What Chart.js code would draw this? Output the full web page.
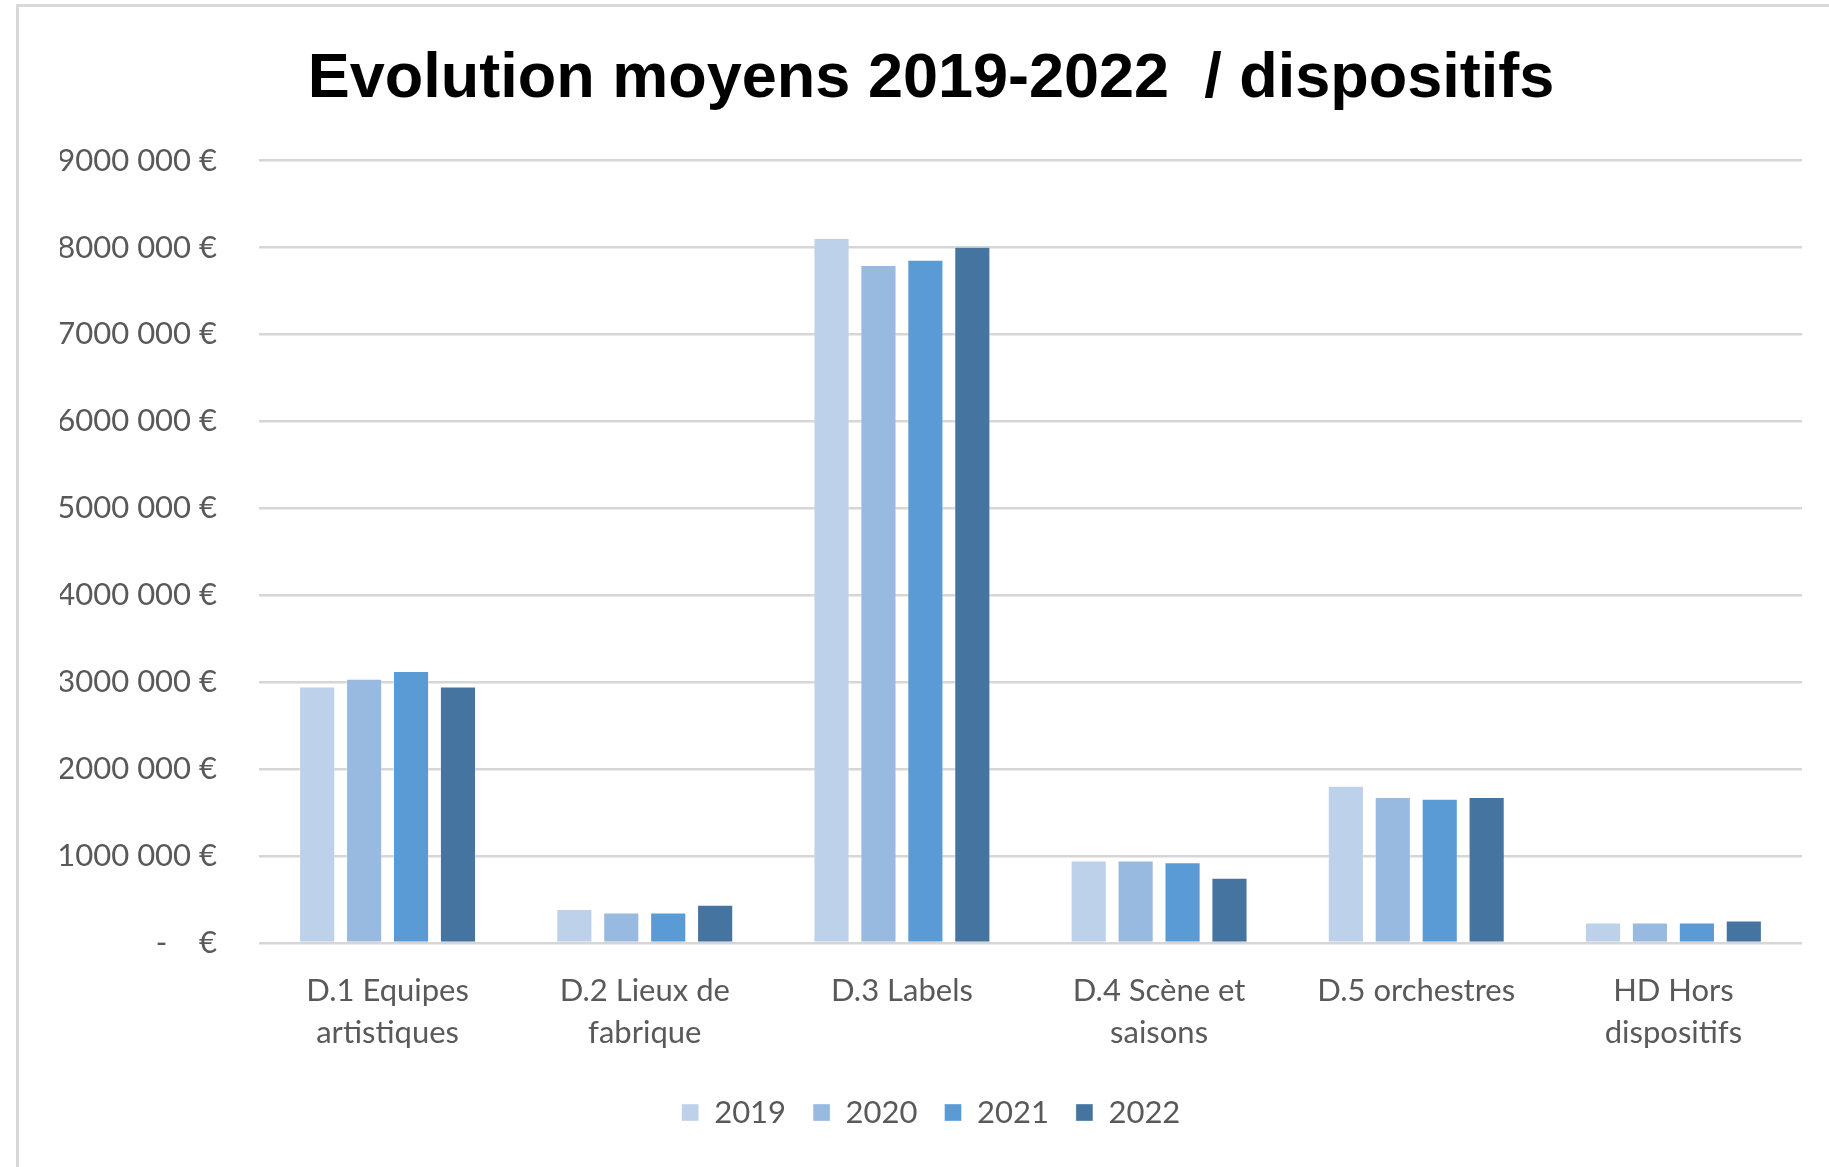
<!DOCTYPE html>
<html lang="fr">
<head>
    <meta charset="UTF-8">
    <title>Evolution moyens 2019-2022 / dispositifs</title>
    <style>
        body {
            margin: 0;
            padding: 0;
            background-color: #fff;
            overflow: hidden;
        }
        .frame {
            position: absolute;
            left: 16px;
            top: 4px;
            right: 0;
            bottom: 0;
            border-left: 3px solid #d9d9d9;
            border-top: 3px solid #d9d9d9;
        }
        .chart-box {
            position: absolute;
            left: 0;
            top: 0;
            width: 1829px;
            height: 1167px;
        }
    </style>
</head>
<body>
    <div class="frame"></div>
    <div class="chart-box">
        <canvas id="moyensChart" width="1829" height="1167"></canvas>
    </div>
    <script src="https://cdn.jsdelivr.net/npm/chart.js"></script>
    <script>
// data
const categories = [
    ['D.1 Equipes', 'artistiques'],
    ['D.2 Lieux de', 'fabrique'],
    'D.3 Labels',
    ['D.4 Scène et', 'saisons'],
    'D.5 orchestres',
    ['HD Hors', 'dispositifs']
];
const years = ['2019', '2020', '2021', '2022'];
const values2019 = [2950000, 390000, 8110000, 950000, 1810000, 237000];
const values2020 = [3040000, 350000, 7800000, 950000, 1680000, 237000];
const values2021 = [3130000, 350000, 7860000, 930000, 1660000, 237000];
const values2022 = [2950000, 440000, 8010000, 750000, 1680000, 260000];
const yearColors = ['#BDD1EA', '#98B9E0', '#5B9BD5', '#44749F'];

const series = [values2019, values2020, values2021, values2022];

// "9000 000 €" style, zero shown as "-   €"
function euro(value) {
    if (value === 0) return '-\u00a0\u00a0\u00a0\u00a0€';
    const s = String(value);
    return s.slice(0, -3) + '\u00a0' + s.slice(-3) + '\u00a0€';
}

const labelFont = { family: 'Lato, "Open Sans", sans-serif', size: 31 };

const ctx = document.getElementById('moyensChart').getContext('2d');
const moyensChart = new Chart(ctx, {
    type: 'bar',
    data: {
        labels: categories,
        datasets: years.map((year, i) => ({
            label: year,
            data: series[i],
            backgroundColor: yearColors[i],
            borderColor: 'rgba(255,255,255,0.35)',
            borderWidth: 1,
            categoryPercentage: 0.73,
            barPercentage: 0.77
        }))
    },
    options: {
        responsive: false,
        animation: false,
        layout: {
            padding: { left: 60, right: 27, top: 0, bottom: 29 }
        },
        plugins: {
            title: {
                display: true,
                text: 'Evolution moyens 2019-2022  / dispositifs',
                color: '#000',
                font: { family: 'Arial, "Liberation Sans", sans-serif', size: 63, weight: 'bold' },
                padding: { top: 42, bottom: 43 }
            },
            legend: {
                position: 'bottom',
                labels: {
                    color: '#595959',
                    font: labelFont,
                    boxWidth: 17,
                    boxHeight: 17,
                    padding: 27
                }
            },
            tooltip: { enabled: false }
        },
        scales: {
            x: {
                grid: { display: false },
                border: { display: false },
                ticks: {
                    color: '#595959',
                    font: { ...labelFont, lineHeight: 1.35 },
                    padding: 19,
                    maxRotation: 0,
                    autoSkip: false
                },
                afterFit: scale => { scale.height = 127; }
            },
            y: {
                min: 0,
                max: 9000000,
                grid: {
                    color: '#d6d6d6',
                    lineWidth: 2.5,
                    drawTicks: false
                },
                border: { display: false },
                ticks: {
                    stepSize: 1000000,
                    color: '#595959',
                    font: labelFont,
                    padding: 42,
                    callback: value => euro(value)
                },
                afterFit: scale => { scale.width = 199; }
            }
        }
    }
});
    </script>
</body>
</html>
